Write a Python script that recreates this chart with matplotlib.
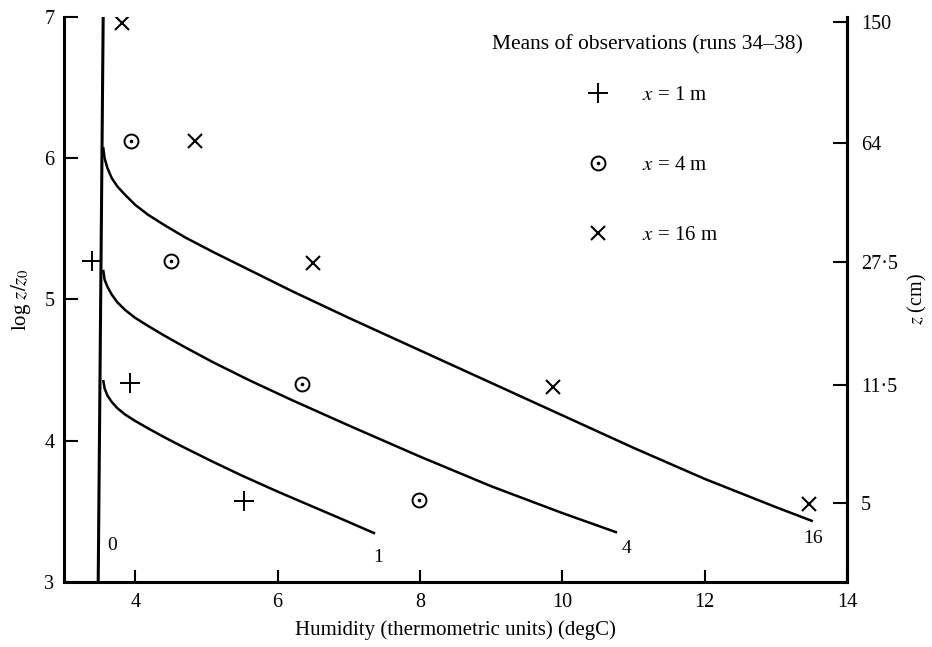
import numpy as np
import matplotlib
matplotlib.use("Agg")
import matplotlib.pyplot as plt

plt.rcParams['font.family'] = ['Liberation Serif', 'DejaVu Serif']
plt.rcParams['mathtext.fontset'] = 'stix'

# ---------------- data ----------------
# observed means (log z/z0 levels correspond to z = 5, 11.5, 27.5, 64, 150 cm)
obs1_x = [3.39, 3.93, 5.53]
obs1_y = [5.27, 4.41, 3.57]
obs4_x = [3.94, 4.50, 6.34, 7.99]
obs4_y = [6.12, 5.27, 4.40, 3.58]
obs16_x = [3.81, 4.84, 6.50, 9.87, 13.46]
obs16_y = [6.96, 6.12, 5.26, 4.38, 3.55]

# theoretical curves
c0_x = [3.48, 3.55]
c0_y = [3.0, 7.0]
c1_x = [3.55, 3.57, 3.61, 3.67, 3.75, 3.86, 4.00, 4.18, 4.40, 4.70, 5.10, 5.50, 6.00, 6.45, 6.90, 7.37]
c1_y = [4.43, 4.37, 4.32, 4.275, 4.23, 4.185, 4.14, 4.088, 4.027, 3.949, 3.849, 3.753, 3.64, 3.543, 3.446, 3.343]
c4_x = [3.55, 3.57, 3.61, 3.67, 3.75, 3.86, 4.00, 4.18, 4.40, 4.70, 5.10, 5.60, 6.20, 7.00, 8.00, 9.00, 10.00, 10.77]
c4_y = [5.21, 5.14, 5.09, 5.035, 4.98, 4.925, 4.87, 4.813, 4.747, 4.662, 4.554, 4.429, 4.288, 4.108, 3.888, 3.678, 3.488, 3.35]
c16_x = [3.55, 3.57, 3.61, 3.67, 3.75, 3.86, 4.00, 4.18, 4.40, 4.70, 5.10, 5.60, 6.20, 7.00, 8.00, 9.00, 10.00, 11.00, 12.00, 13.00, 13.52]
c16_y = [6.08, 6.00, 5.93, 5.86, 5.80, 5.74, 5.67, 5.60, 5.53, 5.44, 5.335, 5.21, 5.06, 4.87, 4.64, 4.41, 4.18, 3.95, 3.73, 3.53, 3.43]
curve_labels = ['0', '1', '4', '16']
curve_label_x = [3.68, 7.42, 10.90, 13.52]
curve_label_y = [3.26, 3.17, 3.24, 3.31]

x_ticks = [4, 6, 8, 10, 12, 14]
y_ticks = [3, 4, 5, 6, 7]
z_cm = [5, 11.5, 27.5, 64, 150]
z_labels = ['5', '11·5', '27·5', '64', '150']
z0_cm = 0.142

legend_title = 'Means of observations (runs 34–38)'
legend_labels = [r'$x$ = 1 m', r'$x$ = 4 m', r'$x$ = 16 m']

# ---------------- figure ----------------
fig = plt.figure(figsize=(9.32, 6.47), dpi=100)
ax = fig.add_axes([0.0687, 0.1005, 0.8401, 0.8732])
ax.set_xlim(3, 14)
ax.set_ylim(3, 7)

ax.plot(c0_x, c0_y, color='black', lw=2.2)
for cx, cy in [(c1_x, c1_y), (c4_x, c4_y), (c16_x, c16_y)]:
    ax.plot(cx, cy, color='black', lw=1.8, solid_capstyle='butt',
            solid_joinstyle='round')

for t, tx, ty in zip(curve_labels, curve_label_x, curve_label_y):
    ax.text(tx, ty, t, fontsize=14, ha='center', va='center')

plus_kw = dict(ls='none', marker='+', ms=14, mew=1.4, color='black')
circ_kw = dict(ls='none', marker='o', ms=10, mew=1.4, mfc='white', mec='black')
dot_kw = dict(ls='none', marker='o', ms=2.6, mew=0, color='black')
cross_kw = dict(ls='none', marker='x', ms=10, mew=1.5, color='black')

h1, = ax.plot(obs1_x, obs1_y, **plus_kw)
h4a, = ax.plot(obs4_x, obs4_y, **circ_kw)
h4b, = ax.plot(obs4_x, obs4_y, **dot_kw)
h16, = ax.plot(obs16_x, obs16_y, **cross_kw)

# spines
ax.spines['top'].set_visible(False)
for s in ['left', 'bottom', 'right']:
    ax.spines[s].set_linewidth(2.2)

ax.set_xticks(x_ticks)
ax.set_yticks(y_ticks)
ax.tick_params(axis='x', direction='in', length=9, width=1.5, pad=8, labelsize=14.5)
ax.tick_params(axis='y', direction='in', length=10, width=1.5, pad=7, labelsize=14.5)
ax.set_xlabel('Humidity (thermometric units) (degC)', fontsize=15, labelpad=6)
ax.set_ylabel(r'log $z/z_0$', fontsize=15, labelpad=8)

ax2 = ax.twinx()
ax2.set_ylim(3, 7)
ax2.set_yticks(np.log(np.array(z_cm) / z0_cm))
ax2.set_yticklabels(z_labels)
ax2.tick_params(axis='y', direction='in', length=10, width=1.5, pad=10, labelsize=14.5)
ax2.spines['top'].set_visible(False)
ax2.spines['right'].set_linewidth(2.2)
ax2.spines['left'].set_visible(False)
ax2.spines['bottom'].set_visible(False)
ax2.set_ylabel(r'$z$ (cm)', fontsize=14.5, labelpad=6)

# legend
ax.text(0.745, 0.951, legend_title, transform=ax.transAxes, fontsize=15.5,
        ha='center', va='center')
leg = ax.legend([h1, (h4a, h4b), h16], legend_labels, loc='upper left',
                bbox_to_anchor=(0.6693, 0.879), frameon=False, fontsize=15,
                handlelength=1.0, handletextpad=1.6, labelspacing=2.42,
                borderpad=0, borderaxespad=0)

fig.savefig('out.png', dpi=100)
